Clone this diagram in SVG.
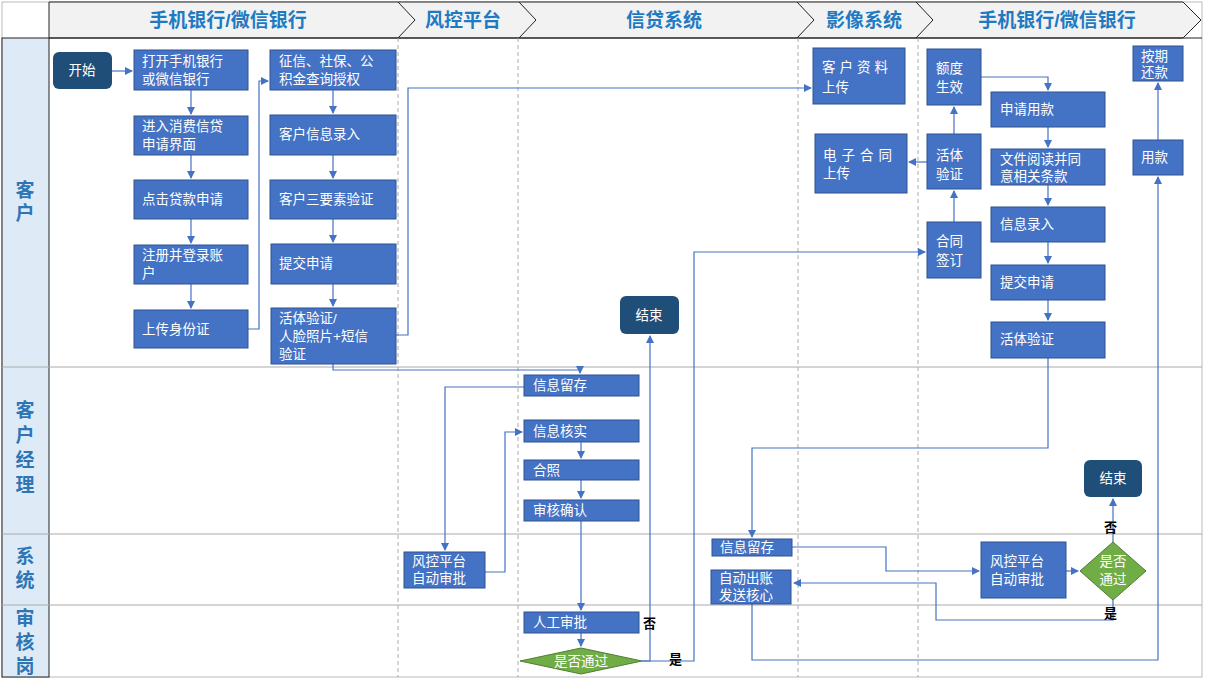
<svg xmlns="http://www.w3.org/2000/svg" width="1205" height="679" viewBox="0 0 1205 679">
<defs>
<marker id="ar" markerWidth="8" markerHeight="8" refX="7" refY="4" orient="auto" markerUnits="userSpaceOnUse"><path d="M0,0 L8,4 L0,8 Z" fill="#4472c4"/></marker>
<style>
.n{fill:#4472c4;stroke:#2f528f;stroke-width:1}
.t{fill:#fff;font-family:"Liberation Sans","Noto Sans CJK SC",sans-serif;font-size:13.5px}
.d{fill:#1f4e79}
.g{fill:#70ad47;stroke:#507e32}
.h{fill:#1f7ac2;font-family:"Liberation Sans","Noto Sans CJK SC",sans-serif;font-size:19px;font-weight:bold}
.l{fill:#2e75b6;font-family:"Liberation Sans","Noto Sans CJK SC",sans-serif;font-size:19px;font-weight:bold;text-anchor:middle}
.k{fill:#000;font-family:"Liberation Sans","Noto Sans CJK SC",sans-serif;font-size:13px;font-weight:bold}
.c path{fill:none;stroke:#4472c4;stroke-width:1.2}
.sep{stroke:#aaa;stroke-dasharray:4 3;stroke-width:1}
</style>
</defs>
<rect width="1205" height="679" fill="#fff"/>
<g id="frame">
<rect x="2" y="2" width="1200" height="675" fill="none" stroke="#bbb"/>
<path d="M49,2 H1183 L1201,20 L1183,38 H49 Z" fill="#f2f2f2" stroke="#222"/>
<path d="M398,2 L415,20 L398,38 M519,2 L536,20 L519,38 M797,2 L814,20 L797,38 M916,2 L933,20 L916,38" fill="none" stroke="#222"/>
<text class="h" x="228" y="27" text-anchor="middle">手机银行/微信银行</text>
<text class="h" x="463" y="27" text-anchor="middle">风控平台</text>
<text class="h" x="664" y="27" text-anchor="middle">信贷系统</text>
<text class="h" x="864" y="27" text-anchor="middle">影像系统</text>
<text class="h" x="1057" y="27" text-anchor="middle">手机银行/微信银行</text>
<rect x="2" y="38" width="47" height="639" fill="#deebf7" stroke="#222"/>
<path d="M2,367 H1202 M2,534 H1202 M2,605 H1202" stroke="#aaa" fill="none"/>
<path d="M49,38 H1202" stroke="#222"/>
<path class="sep" d="M398,38 V677 M518,38 V677 M798,38 V677 M918,38 V677"/>
<text class="l" x="25" y="197">客</text><text class="l" x="25" y="220">户</text>
<text class="l" x="25" y="417">客</text><text class="l" x="25" y="442">户</text><text class="l" x="25" y="467">经</text><text class="l" x="25" y="492">理</text>
<text class="l" x="25" y="563">系</text><text class="l" x="25" y="587">统</text>
<text class="l" x="25" y="625">审</text><text class="l" x="25" y="649">核</text><text class="l" x="25" y="673">岗</text>
</g>
<g class="c" id="connectors">
<path d="M112,71 H132" marker-end="url(#ar)"/>
<path d="M191,90 V114" marker-end="url(#ar)"/>
<path d="M191,155 V178" marker-end="url(#ar)"/>
<path d="M191,219 V243" marker-end="url(#ar)"/>
<path d="M191,284 V308" marker-end="url(#ar)"/>
<path d="M248,329 H259 V81 H268" marker-end="url(#ar)"/>
<path d="M333,90 V113" marker-end="url(#ar)"/>
<path d="M333,155 V178" marker-end="url(#ar)"/>
<path d="M333,219 V242" marker-end="url(#ar)"/>
<path d="M333,284 V306" marker-end="url(#ar)"/>
<path d="M396,335 H408 V88 H811" marker-end="url(#ar)"/>
<path d="M333,364 V370 H580 V373" marker-end="url(#ar)"/>
<path d="M524,387 H445 V550" marker-end="url(#ar)"/>
<path d="M485,572 H505 V432 H522" marker-end="url(#ar)"/>
<path d="M581,442 V458" marker-end="url(#ar)"/>
<path d="M581,480 V498" marker-end="url(#ar)"/>
<path d="M581,521 V610" marker-end="url(#ar)"/>
<path d="M581,633 V646" marker-end="url(#ar)"/>
<path d="M642,661 H650 V336" marker-end="url(#ar)"/>
<path d="M642,661 H694 V252 H925" marker-end="url(#ar)"/>
<path d="M954,222 V191" marker-end="url(#ar)"/>
<path d="M927,162 H909" marker-end="url(#ar)"/>
<path d="M954,134 V107" marker-end="url(#ar)"/>
<path d="M981,77 H1048 V90" marker-end="url(#ar)"/>
<path d="M1048,127 V147" marker-end="url(#ar)"/>
<path d="M1048,185 V205" marker-end="url(#ar)"/>
<path d="M1048,242 V263" marker-end="url(#ar)"/>
<path d="M1048,300 V320" marker-end="url(#ar)"/>
<path d="M1048,358 V448 H752 V537" marker-end="url(#ar)"/>
<path d="M792,547 H886 V571 H979" marker-end="url(#ar)"/>
<path d="M1066,571 H1078" marker-end="url(#ar)"/>
<path d="M1113,542 V499" marker-end="url(#ar)"/>
<path d="M1113,600 V620 H936 V583 H794" marker-end="url(#ar)"/>
<path d="M752,604 V660 H1158 V177" marker-end="url(#ar)"/>
<path d="M1158,140 V83" marker-end="url(#ar)"/>
</g>
<g id="start"><rect class="d" x="53" y="52" width="59" height="37" rx="6"/><text class="t" x="82" y="75" text-anchor="middle">开始</text></g>
<g id="n1"><rect class="n" x="134" y="50" width="114" height="40"/><text class="t" x="142" y="66">打开手机银行</text><text class="t" x="142" y="84">或微信银行</text></g>
<g id="n2"><rect class="n" x="134" y="116" width="114" height="39"/><text class="t" x="142" y="131">进入消费信贷</text><text class="t" x="142" y="149">申请界面</text></g>
<g id="n3"><rect class="n" x="134" y="180" width="114" height="39"/><text class="t" x="142" y="204">点击贷款申请</text></g>
<g id="n4"><rect class="n" x="134" y="245" width="114" height="39"/><text class="t" x="142" y="260">注册并登录账</text><text class="t" x="142" y="278">户</text></g>
<g id="n5"><rect class="n" x="134" y="310" width="114" height="38"/><text class="t" x="142" y="334">上传身份证</text></g>
<g id="n6"><rect class="n" x="270" y="50" width="126" height="40"/><text class="t" x="279" y="66">征信、社保、公</text><text class="t" x="279" y="84">积金查询授权</text></g>
<g id="n7"><rect class="n" x="270" y="115" width="126" height="40"/><text class="t" x="279" y="139">客户信息录入</text></g>
<g id="n8"><rect class="n" x="270" y="180" width="126" height="39"/><text class="t" x="279" y="204">客户三要素验证</text></g>
<g id="n9"><rect class="n" x="271" y="244" width="125" height="40"/><text class="t" x="279" y="268">提交申请</text></g>
<g id="n10"><rect class="n" x="271" y="308" width="125" height="56"/><text class="t" x="279" y="323">活体验证/</text><text class="t" x="279" y="341">人脸照片+短信</text><text class="t" x="279" y="359">验证</text></g>
<g id="n11"><rect class="n" x="813" y="48" width="92" height="56"/><text class="t" x="822" y="72" letter-spacing="4">客户资料</text><text class="t" x="822" y="92">上传</text></g>
<g id="n12"><rect class="n" x="815" y="134" width="92" height="59"/><text class="t" x="823" y="160" letter-spacing="5">电子合同</text><text class="t" x="823" y="178">上传</text></g>
<g id="n13"><rect class="n" x="927" y="49" width="54" height="56"/><text class="t" x="936" y="73">额度</text><text class="t" x="936" y="92">生效</text></g>
<g id="n14"><rect class="n" x="927" y="134" width="54" height="55"/><text class="t" x="936" y="160">活体</text><text class="t" x="936" y="179">验证</text></g>
<g id="n15"><rect class="n" x="927" y="222" width="54" height="56"/><text class="t" x="936" y="246">合同</text><text class="t" x="936" y="265">签订</text></g>
<g id="n16"><rect class="n" x="991" y="92" width="114" height="35"/><text class="t" x="1000" y="114">申请用款</text></g>
<g id="n17"><rect class="n" x="991" y="149" width="114" height="36"/><text class="t" x="1000" y="164">文件阅读并同</text><text class="t" x="1000" y="181">意相关条款</text></g>
<g id="n18"><rect class="n" x="991" y="207" width="114" height="35"/><text class="t" x="1000" y="229">信息录入</text></g>
<g id="n19"><rect class="n" x="991" y="265" width="114" height="35"/><text class="t" x="1000" y="287">提交申请</text></g>
<g id="n20"><rect class="n" x="991" y="322" width="114" height="36"/><text class="t" x="1000" y="344">活体验证</text></g>
<g id="n21"><rect class="n" x="1133" y="46" width="50" height="35"/><text class="t" x="1141" y="61">按期</text><text class="t" x="1141" y="77">还款</text></g>
<g id="n22"><rect class="n" x="1133" y="140" width="50" height="35"/><text class="t" x="1141" y="162">用款</text></g>
<g id="end1"><rect class="d" x="620" y="296" width="59" height="38" rx="6"/><text class="t" x="649" y="320" text-anchor="middle">结束</text></g>
<g id="n23"><rect class="n" x="524" y="375" width="115" height="21"/><text class="t" x="533" y="390">信息留存</text></g>
<g id="n24"><rect class="n" x="524" y="420" width="115" height="22"/><text class="t" x="533" y="436">信息核实</text></g>
<g id="n25"><rect class="n" x="524" y="460" width="115" height="20"/><text class="t" x="533" y="475">合照</text></g>
<g id="n26"><rect class="n" x="524" y="500" width="115" height="21"/><text class="t" x="533" y="515">审核确认</text></g>
<g id="n27"><rect class="n" x="404" y="552" width="81" height="36"/><text class="t" x="412" y="566">风控平台</text><text class="t" x="412" y="583">自动审批</text></g>
<g id="n28"><rect class="n" x="524" y="612" width="115" height="21"/><text class="t" x="533" y="627">人工审批</text></g>
<g id="dec1"><polygon class="g" points="520,661 581,648 642,661 581,674"/><text class="t" x="581" y="666" text-anchor="middle">是否通过</text></g>
<text class="k" x="643" y="628">否</text>
<text class="k" x="669" y="664">是</text>
<g id="n29"><rect class="n" x="712" y="539" width="80" height="17"/><text class="t" x="720" y="552">信息留存</text></g>
<g id="n30"><rect class="n" x="711" y="570" width="80" height="34"/><text class="t" x="719" y="583">自动出账</text><text class="t" x="719" y="600">发送核心</text></g>
<g id="n31"><rect class="n" x="981" y="542" width="85" height="56"/><text class="t" x="990" y="566">风控平台</text><text class="t" x="990" y="584">自动审批</text></g>
<g id="dec2"><polygon class="g" points="1080,571 1113,542 1146,571 1113,600"/><text class="t" x="1113" y="566" text-anchor="middle">是否</text><text class="t" x="1113" y="584" text-anchor="middle">通过</text></g>
<g id="end2"><rect class="d" x="1084" y="460" width="58" height="37" rx="6"/><text class="t" x="1113" y="483" text-anchor="middle">结束</text></g>
<text class="k" x="1104" y="532">否</text>
<text class="k" x="1104" y="618">是</text>
</svg>
